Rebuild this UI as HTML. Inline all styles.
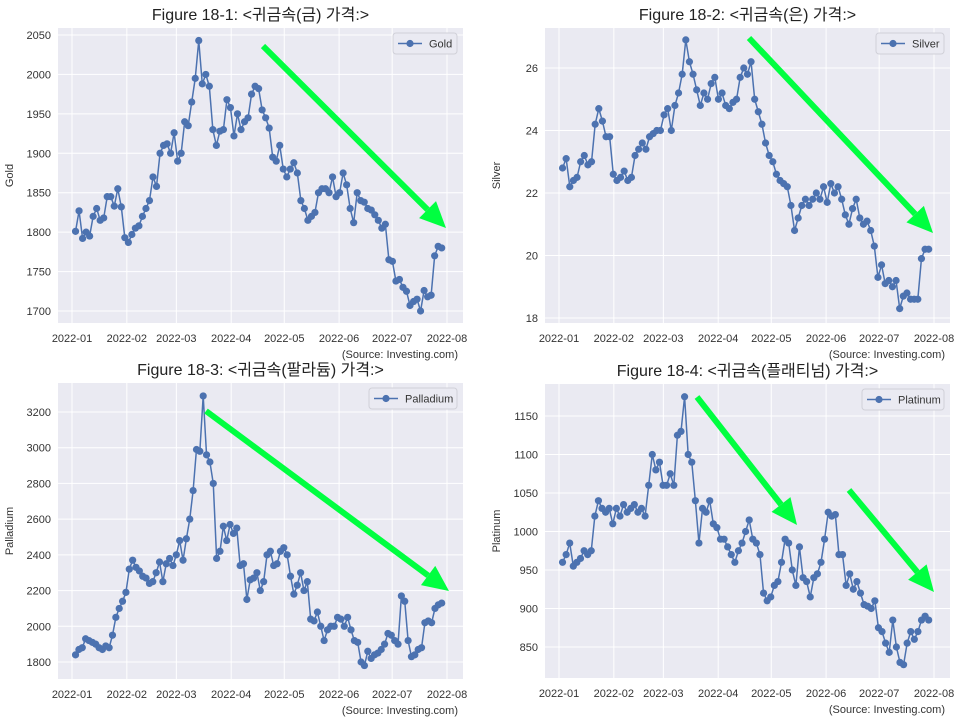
<!DOCTYPE html>
<html><head><meta charset="utf-8"><style>
body{margin:0;background:#fff;width:960px;height:724px;overflow:hidden}
svg{display:block;font-family:"Liberation Sans","Noto Sans CJK KR",sans-serif}
</style></head><body>
<svg id="fig" width="960" height="724" viewBox="0 0 960 724"></svg>
<script>
const monthLabels=["2022-01","2022-02","2022-03","2022-04","2022-05","2022-06","2022-07","2022-08"];
const goldValues=[1801,1827,1792,1800,1795,1820,1830,1815,1818,1845,1845,1833,1855,1832,1793,1787,1797,1805,1808,1820,1830,1840,1870,1858,1900,1910,1912,1900,1926,1890,1900,1940,1935,1965,1995,2043,1988,2000,1985,1930,1910,1928,1930,1968,1958,1922,1950,1930,1940,1945,1975,1985,1982,1955,1945,1932,1895,1890,1910,1880,1870,1880,1888,1875,1840,1830,1815,1820,1825,1850,1855,1855,1850,1870,1845,1850,1875,1860,1830,1812,1850,1840,1838,1830,1828,1822,1815,1805,1810,1765,1763,1738,1740,1730,1725,1707,1712,1715,1700,1726,1718,1720,1770,1782,1780];
const silverValues=[22.8,23.1,22.2,22.4,22.5,23.0,23.2,22.9,23.0,24.2,24.7,24.3,23.8,23.8,22.6,22.4,22.5,22.7,22.4,22.5,23.2,23.4,23.6,23.4,23.8,23.9,24.0,24.0,24.5,24.7,24.0,24.8,25.2,25.8,26.9,26.2,25.8,25.3,24.8,25.2,25.0,25.5,25.7,25.0,25.2,24.8,24.7,24.9,25.0,25.7,26.0,25.8,26.2,25.0,24.6,24.2,23.6,23.2,23.0,22.6,22.4,22.3,22.2,21.6,20.8,21.2,21.6,21.8,21.6,21.8,22.0,21.8,22.2,21.7,22.3,22.0,22.2,21.8,21.3,21.0,21.5,21.8,21.2,21.0,21.1,20.8,20.3,19.3,19.7,19.1,19.2,19.0,19.2,18.3,18.7,18.8,18.6,18.6,18.6,19.9,20.2,20.2];
const palladiumValues=[1840,1870,1880,1930,1920,1910,1900,1880,1870,1890,1880,1950,2050,2100,2140,2190,2320,2370,2330,2310,2280,2270,2240,2250,2300,2360,2250,2350,2380,2340,2400,2480,2370,2490,2600,2760,2990,2980,3290,2960,2920,2800,2380,2420,2560,2480,2570,2520,2550,2340,2350,2150,2260,2270,2300,2200,2250,2400,2420,2340,2350,2420,2440,2400,2280,2180,2230,2300,2200,2250,2040,2030,2080,2000,1920,1980,2000,2000,2050,2040,2000,2050,1980,1920,1910,1800,1780,1860,1820,1840,1850,1870,1900,1960,1950,1920,1900,2170,2140,1920,1830,1840,1870,1880,2020,2030,2020,2100,2120,2130];
const platinumValues=[960,970,985,955,960,965,975,970,975,1020,1040,1030,1025,1030,1010,1030,1020,1035,1025,1030,1035,1025,1030,1020,1060,1100,1080,1090,1060,1060,1075,1060,1125,1130,1175,1100,1090,1040,985,1030,1025,1040,1010,1005,990,990,980,970,960,975,985,1000,1015,990,985,970,920,910,915,930,935,960,990,985,950,930,980,940,935,915,940,945,960,990,1025,1020,1022,970,970,930,945,925,935,920,905,903,900,910,875,870,855,843,885,850,830,827,855,870,860,870,885,890,885];
const panels=[
 {name:"gold",label:"Gold",title:"Figure 18-1: <귀금속(금) 가격:>",vals:goldValues,ticks:[1700,1750,1800,1850,1900,1950,2000,2050],L:58,R:463,T:28,B:323,x0:72,x1:447,v0:1700,p0:311,v1:2050,p1:35,dec:0,
  arrows:[[263,46,446,228]],legW:64},
 {name:"silver",label:"Silver",title:"Figure 18-2: <귀금속(은) 가격:>",vals:silverValues,ticks:[18,20,22,24,26],L:545,R:950,T:28,B:323,x0:559,x1:934,v0:18,p0:318,v1:26,p1:68,dec:0,
  arrows:[[749,38,933,233]],legW:68},
 {name:"palladium",label:"Palladium",title:"Figure 18-3: <귀금속(팔라듐) 가격:>",vals:palladiumValues,ticks:[1800,2000,2200,2400,2600,2800,3000,3200],L:58,R:463,T:383,B:679,x0:72,x1:447,v0:1800,p0:662,v1:3200,p1:412,dec:0,
  arrows:[[206,411,449,591]],legW:88},
 {name:"platinum",label:"Platinum",title:"Figure 18-4: <귀금속(플래티넘) 가격:>",vals:platinumValues,ticks:[850,900,950,1000,1050,1100,1150],L:545,R:950,T:384,B:678,x0:559,x1:934,v0:850,p0:647,v1:1150,p1:416,dec:0,
  arrows:[[697,397,797,525],[849,490,934,592]],legW:82}
];
const NS="http://www.w3.org/2000/svg";
const svg=document.getElementById('fig');
function mk(tag,attrs,parent,text){const e=document.createElementNS(NS,tag);for(const k in attrs)e.setAttribute(k,attrs[k]);if(text!==undefined)e.textContent=text;(parent||svg).appendChild(e);return e;}
panels.forEach(p=>{
 const g=mk('g',{});
 
 
 const xs=d=>p.x0+(p.x1-p.x0)*d/212; // days since Jan 1
 const ys=v=>p.p0+(p.p1-p.p0)*(v-p.v0)/(p.v1-p.v0);
 const bg=mk('rect',{x:p.L,y:p.T,width:p.R-p.L,height:p.B-p.T,fill:'#eaeaf2'},g);
 
 
 monthLabels.forEach((m,i)=>{
  const d=[0,31,59,90,120,151,181,212][i];const x=xs(d);
  mk('line',{x1:x,x2:x,y1:p.T,y2:p.B,stroke:'#fff','stroke-width':1},g);
  const t=mk('text',{x:x,y:p.B+19,'text-anchor':'middle','font-size':11,fill:'#333'},g,m);
  
  
 });
 p.ticks.forEach(v=>{
  const y=ys(v);
  mk('line',{x1:p.L,x2:p.R,y1:y,y2:y,stroke:'#fff','stroke-width':1},g);
  const t=mk('text',{x:p.L-7,y:y+4,'text-anchor':'end','font-size':11,fill:'#333'},g,String(v));
  
  
 });
 const n=p.vals.length;
 const pts=p.vals.map((v,i)=>[xs(2+i*207/(n-1)),ys(v)]);
 const line=mk('polyline',{points:pts.map(q=>q.join(',')).join(' '),fill:'none',stroke:'#4c72b0','stroke-width':1.5},g);
 
 
 pts.forEach(q=>{
  const c=mk('circle',{cx:q[0],cy:q[1],r:3.6,fill:'#4c72b0'},g);
  
  
 });
 p.arrows.forEach(a=>{
  const [x1,y1,x2,y2]=a;const dx=x2-x1,dy=y2-y1,L=Math.hypot(dx,dy),ux=dx/L,uy=dy/L;
  const hl=26,hw=12;const bx=x2-ux*hl,by=y2-uy*hl;
  const ag=mk('g',{},g);
  
  
  mk('line',{x1:x1,y1:y1,x2:bx,y2:by,stroke:'#00ff40','stroke-width':6},ag);
  mk('polygon',{points:`${x2},${y2} ${bx-uy*hw},${by+ux*hw} ${bx+uy*hw},${by-ux*hw}`,fill:'#00ff40'},ag);
 });
 const lx=p.R-6-p.legW,ly=p.T+5;
 const lg=mk('g',{},g);
 
 
 mk('rect',{x:lx,y:ly,width:p.legW,height:21,rx:3,fill:'#eaeaf2',stroke:'#d0d0d8'},lg);
 mk('line',{x1:lx+5,x2:lx+29,y1:ly+10.5,y2:ly+10.5,stroke:'#4c72b0','stroke-width':1.5},lg);
 mk('circle',{cx:lx+17,cy:ly+10.5,r:3.6,fill:'#4c72b0'},lg);
 mk('text',{x:lx+36,y:ly+14.5,'font-size':11,fill:'#333'},lg,p.label);
 const cx=(p.L+p.R)/2;
 const tt=mk('text',{x:cx,y:p.T-8,'text-anchor':'middle','font-size':16,fill:'#222'},g,p.title);
 
 
 const yl=mk('text',{x:0,y:0,'text-anchor':'middle','font-size':11,fill:'#333',transform:`translate(${p.L-45},${(p.T+p.B)/2}) rotate(-90)`},g,p.label);
 
 
 const src=mk('text',{x:p.R-5,y:p.B+35,'text-anchor':'end','font-size':11,fill:'#333'},g,'(Source: Investing.com)');
 
 
});
</script>
</body></html>
